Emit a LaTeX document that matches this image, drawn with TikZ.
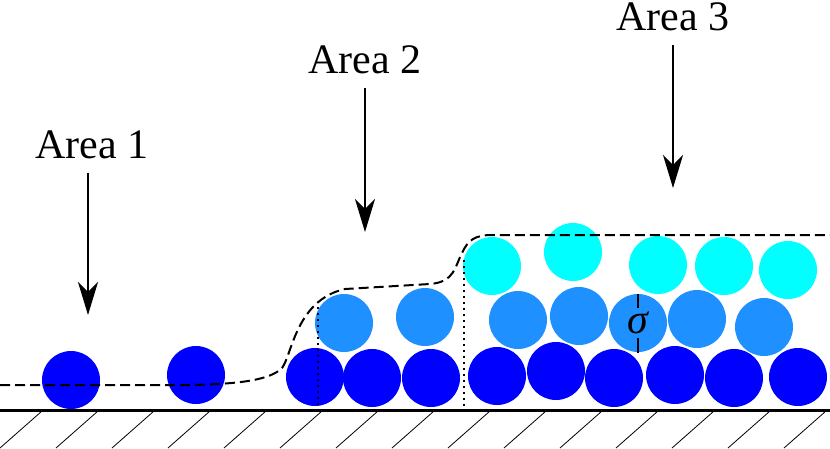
\documentclass[tikz,border=0pt]{standalone}
\usepackage{fontspec}
\setmainfont{Liberation Serif}
\newfontfamily\areafont{Liberation Serif}
\usetikzlibrary{arrows.meta}
\definecolor{lowgrain}{RGB}{0,0,255}
\definecolor{midgrain}{RGB}{30,144,255}
\definecolor{topgrain}{RGB}{0,255,255}

\begin{document}
\begin{tikzpicture}[x=1pt,y=-1pt,>={Stealth[length=33pt,width=20pt,inset=10pt]},line width=1pt]
        \tikzstyle{grain}=[circle,draw=none,inner sep=0pt,minimum size=58pt]
        \tikzstyle{area}=[inner sep=0pt,anchor=base,font=\areafont\fontsize{42}{48}\selectfont]
        \tikzstyle{pointer}=[->,line width=2pt,shorten <=14pt]
        \tikzstyle{front}=[line width=2pt,dash pattern=on 10pt off 5pt]
        \tikzstyle{border}=[line width=2pt,dash pattern=on 2pt off 4pt]
        \useasboundingbox (0,0) rectangle (830,448);

        % grains, bottom to top
        \foreach \n/\x/\y in {b1/71/380, b2/196/375, b3/315/377, b4/372/378, b5/431/378, b6/497/376,
                              b7/556/371, b8/614/378, b9/675/375, b10/734/378, b11/798/377}
                \node[grain,fill=lowgrain] (\n) at (\x,\y) {};
        \foreach \n/\x/\y in {m1/344/323, m2/425/317, m3/518/320, m4/579/316, m5/638/323, m6/697/319, m7/764/327}
                \node[grain,fill=midgrain] (\n) at (\x,\y) {};
        \foreach \n/\x/\y in {t1/492/266, t2/573/252, t3/658/265, t4/724/266, t5/788/270}
                \node[grain,fill=topgrain] (\n) at (\x,\y) {};

        \node[font=\areafont\fontsize{42}{48}\selectfont\itshape] (sig) at (m5) {σ};
        \draw[line width=1.6pt] (m5.north) -- (sig.north)
                                (m5.south) -- (sig.south);

        % wall
        \draw[line width=3pt] (0,410) -- (830,410);
        \foreach \x in {42,98,...,826}
                \draw[line width=0.8pt] (\x,411) -- ++(-42,37);

        % film
        \draw[front] (0,385) -- (190,385)
                .. controls (240,384) and (270,380) .. (282,368)
                .. controls (292,355) and (296,300) .. (345,289)
                -- (430,284)
                .. controls (455,282) and (455,266) .. (462,253)
                .. controls (468,240) and (475,235) .. (492,235) -- (830,235);
        \draw[border] (318,307) -- (318,410);
        \draw[border] (464,260) -- (464,410);

        % areas
        \node[area] (area1) at (92,158) {Area 1};
        \node[area] (area2) at (365,73) {Area 2};
        \node[area] (area3) at (673,30) {Area 3};
        \coordinate (p1) at (88,315);
        \coordinate (p2) at (365,232);
        \coordinate (p3) at (673,188);
        \draw[pointer] (area1.south -| p1) -- (p1);
        \draw[pointer] (area2.south -| p2) -- (p2);
        \draw[pointer] (area3.south -| p3) -- (p3);
\end{tikzpicture}
\end{document}
